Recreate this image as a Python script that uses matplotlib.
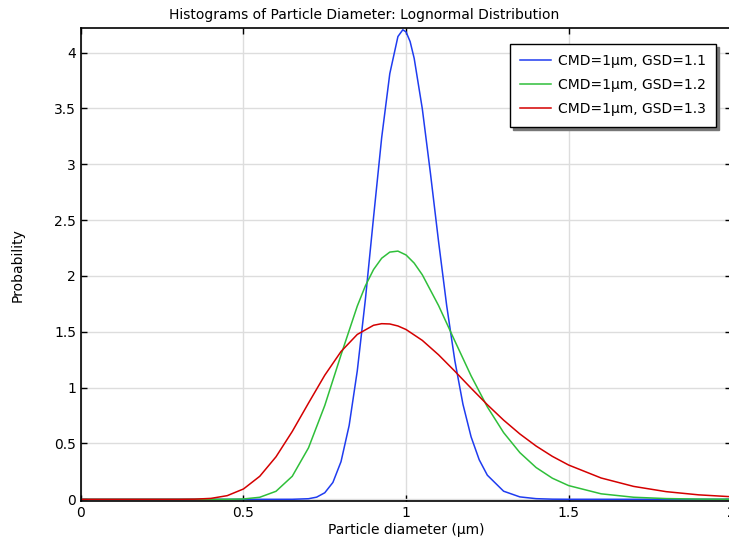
import matplotlib
matplotlib.use('Agg')
import matplotlib.pyplot as plt
from matplotlib.ticker import FuncFormatter

# Particle diameter (um) and probability
x_gsd11 = [0.0, 0.6, 0.65, 0.7, 0.725, 0.75, 0.775, 0.8, 0.825, 0.85, 0.875, 0.9, 0.925,
           0.95, 0.975, 0.99, 1.0, 1.0125, 1.025, 1.05, 1.075, 1.1, 1.125, 1.15, 1.175,
           1.2, 1.225, 1.25, 1.3, 1.35, 1.4, 1.45, 1.5, 2.0]
y_gsd11 = [0.0, 0.0, 0.0002, 0.0054, 0.0195, 0.0587, 0.1511, 0.3377, 0.6617, 1.1508,
           1.7926, 2.5245, 3.2385, 3.8120, 4.1442, 4.2046, 4.1857, 4.0991, 3.9489, 3.4970,
           2.9197, 2.3080, 1.7338, 1.2421, 0.8513, 0.5598, 0.3542, 0.2161, 0.0728, 0.0218,
           0.0059, 0.0014, 0.0003, 0.0]

x_gsd12 = [0.0, 0.35, 0.4, 0.45, 0.5, 0.55, 0.6, 0.65, 0.7, 0.75, 0.8, 0.85, 0.875, 0.9,
           0.925, 0.95, 0.975, 1.0, 1.025, 1.05, 1.1, 1.15, 1.2, 1.25, 1.3, 1.35, 1.4,
           1.45, 1.5, 1.6, 1.7, 1.8, 1.9, 2.0]
y_gsd12 = [0.0, 0.0, 0.0, 0.0003, 0.0032, 0.0184, 0.0720, 0.2065, 0.4612, 0.8402, 1.2933,
           1.7303, 1.9124, 2.0574, 2.1589, 2.2139, 2.2227, 2.1881, 2.1153, 2.0106, 1.7351,
           1.4183, 1.1060, 0.8277, 0.5977, 0.4182, 0.2847, 0.1891, 0.1230, 0.0493, 0.0186,
           0.0067, 0.0023, 0.0008]

x_gsd13 = [0.0, 0.25, 0.3, 0.35, 0.4, 0.45, 0.5, 0.55, 0.6, 0.65, 0.7, 0.75, 0.8, 0.85,
           0.9, 0.925, 0.95, 0.975, 1.0, 1.05, 1.1, 1.15, 1.2, 1.25, 1.3, 1.35, 1.4, 1.45,
           1.5, 1.6, 1.7, 1.8, 1.9, 2.0]
y_gsd13 = [0.0, 0.0, 0.0001, 0.0015, 0.0085, 0.0329, 0.0928, 0.2062, 0.3808, 0.6077,
           0.8621, 1.1114, 1.3238, 1.4766, 1.5586, 1.5729, 1.5703, 1.5523, 1.5206, 1.4233,
           1.2941, 1.1473, 0.9953, 0.8473, 0.7094, 0.5855, 0.4772, 0.3847, 0.3071, 0.1910,
           0.1157, 0.0687, 0.0401, 0.0232]

labels = ['CMD=1\u03bcm, GSD=1.1', 'CMD=1\u03bcm, GSD=1.2', 'CMD=1\u03bcm, GSD=1.3']
colors = ['#1f3cf0', '#2fbf3a', '#d40000']

plt.rcParams['font.family'] = ['DejaVu Sans']
plt.rcParams['font.size'] = 10

fig = plt.figure(figsize=(7.29, 5.39), dpi=100)
ax = fig.add_axes([0.111, 0.0705, 0.892, 0.877])

ax.plot(x_gsd11, y_gsd11, color=colors[0], lw=1.1, label=labels[0])
ax.plot(x_gsd12, y_gsd12, color=colors[1], lw=1.1, label=labels[1])
ax.plot(x_gsd13, y_gsd13, color=colors[2], lw=1.1, label=labels[2])

ax.set_xlim(0, 2)
ax.set_ylim(-0.015, 4.218)
ax.set_xticks([0, 0.5, 1, 1.5, 2])
ax.set_yticks([0, 0.5, 1, 1.5, 2, 2.5, 3, 3.5, 4])
fmt = FuncFormatter(lambda v, p: '%g' % v)
ax.xaxis.set_major_formatter(fmt)
ax.yaxis.set_major_formatter(fmt)
ax.tick_params(direction='in', top=True, right=True, length=4, width=1, colors='black')
ax.grid(True, color='#dddddd', lw=1)
ax.set_axisbelow(True)
for s in ax.spines.values():
    s.set_linewidth(1.2)

ax.set_xlabel('Particle diameter (\u03bcm)', labelpad=2)
ax.set_ylabel('Probability', labelpad=21)
fig.text(0.5, 0.972, 'Histograms of Particle Diameter: Lognormal Distribution',
         ha='center', va='center', fontsize=10)

leg = ax.legend(loc='upper right', bbox_to_anchor=(0.977, 0.967), borderaxespad=0,
                fancybox=False, shadow={'color': '#777777', 'alpha': 1},
                framealpha=1, edgecolor='black', handlelength=2.2, fontsize=10,
                borderpad=0.75, labelspacing=0.72, handletextpad=0.5)
leg.get_frame().set_linewidth(1)

fig.savefig('out.png', dpi=100)
